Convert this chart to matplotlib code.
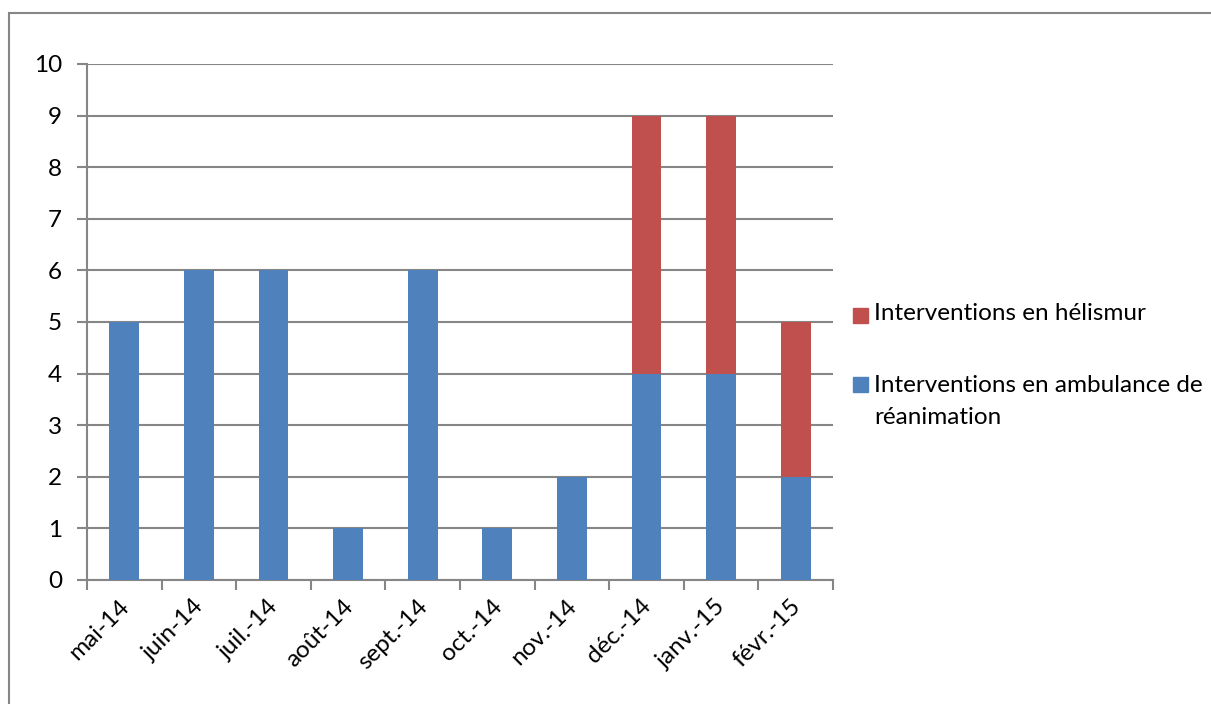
import numpy as np
import matplotlib
matplotlib.use("Agg")
import matplotlib.pyplot as plt
import matplotlib.transforms as mtransforms
from matplotlib.patches import Rectangle

plt.rcParams['font.family'] = ['Lato', 'DejaVu Sans']

# données mensuelles
mois = ['mai-14', 'juin-14', 'juil.-14', 'août-14', 'sept.-14', 'oct.-14',
        'nov.-14', 'déc.-14', 'janv.-15', 'févr.-15']
ambulance = [5, 6, 6, 1, 6, 1, 2, 4, 4, 2]
helismur = [0, 0, 0, 0, 0, 0, 0, 5, 5, 3]
lab_heli = 'Interventions en hélismur'
lab_amb = 'Interventions en ambulance de\nréanimation'

bleu = '#4F81BD'
rouge = '#C0504D'
gris = '#868686'
fs = 17.5

W, H = 1211, 704
fig = plt.figure(figsize=(W / 100, H / 100), dpi=100)
ax = fig.add_axes([87 / W, 1 - 580 / H, (833 - 87) / W, (580 - 64) / H])

x = np.arange(len(mois))
ax.bar(x, ambulance, width=0.4, color=bleu, zorder=3)
ax.bar(x, helismur, width=0.4, bottom=ambulance, color=rouge, zorder=3)

ax.set_xlim(-0.5, len(mois) - 0.5)
ax.set_ylim(0, 10)
ax.set_yticks(range(0, 11))
ax.yaxis.grid(True, color=gris, linewidth=1.5, zorder=0)
ax.set_axisbelow(True)

for s in ['top', 'right']:
    ax.spines[s].set_visible(False)
for s in ['left', 'bottom']:
    ax.spines[s].set_color(gris)
    ax.spines[s].set_linewidth(1.5)

ax.set_xticks(x)
ax.set_xticklabels(mois, rotation=45, ha='right', rotation_mode='anchor', fontsize=fs)
ax.set_xticks(np.arange(-0.5, len(mois)), minor=True)
ax.tick_params(axis='x', which='major', length=0, pad=11)
ax.tick_params(axis='x', which='minor', length=7, width=1.5, color=gris)
ax.tick_params(axis='y', length=7, width=1.5, color=gris, labelsize=fs, pad=11)

# petit décalage des étiquettes de mois vers la gauche
decal = mtransforms.ScaledTranslation(-6 / 100, 0, fig.dpi_scale_trans)
for lab in ax.get_xticklabels():
    lab.set_transform(lab.get_transform() + decal)

# légende à droite
fig.patches.append(Rectangle((853 / W, 1 - 323 / H), 15 / W, 15 / H,
                             transform=fig.transFigure, color=rouge))
fig.patches.append(Rectangle((853 / W, 1 - 392 / H), 15 / W, 15 / H,
                             transform=fig.transFigure, color=bleu))
fig.text(874 / W, 1 - 314 / H, lab_heli, fontsize=fs, va='center')
fig.text(874 / W, 1 - 375 / H, lab_amb, fontsize=fs, va='top', linespacing=1.66)

# cadre autour du graphique
fig.patches.append(Rectangle((9 / W, -0.1), 1.2, 1 - 13 / H + 0.1,
                             transform=fig.transFigure, fill=False,
                             edgecolor=gris, linewidth=1.5))

fig.savefig('out.png', dpi=100)
